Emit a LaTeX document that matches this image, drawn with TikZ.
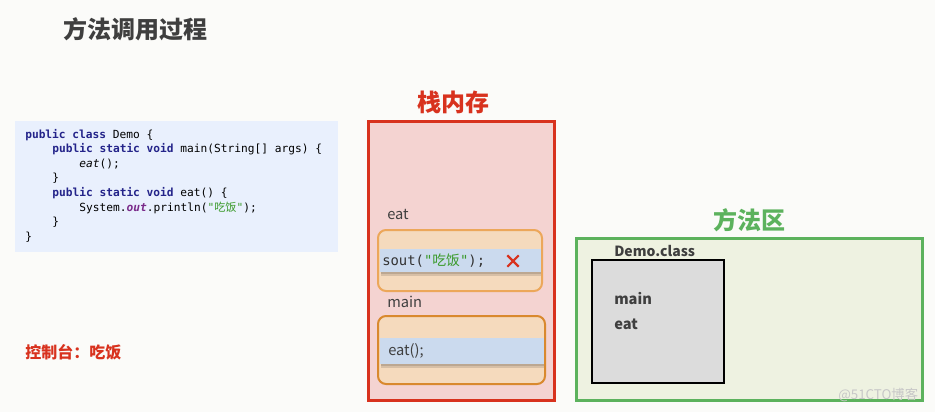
\documentclass[tikz,border=0pt]{standalone}
\usepackage{fontspec}
\setmainfont{Noto Sans CJK SC}
\newfontfamily\cjk{Noto Sans CJK SC}
\newfontfamily\codefont{DejaVu Sans Mono}
\usetikzlibrary{shapes.misc}

\definecolor{pagebg}{HTML}{FBFBF9}
\definecolor{titlegray}{HTML}{3F3F3F}
\definecolor{codebg}{HTML}{E9F0FD}
\definecolor{kwblue}{HTML}{24248A}
\definecolor{strgreen}{HTML}{3A9A2A}
\definecolor{outpurple}{HTML}{7A2A8A}
\definecolor{stackred}{HTML}{D8321E}
\definecolor{stackfill}{HTML}{F4D3D1}
\definecolor{frameorange}{HTML}{ECA75A}
\definecolor{framedark}{HTML}{D9892E}
\definecolor{framefill}{HTML}{F5DABD}
\definecolor{stripblue}{HTML}{CBDAEE}
\definecolor{areagreen}{HTML}{5CB25D}
\definecolor{areafill}{HTML}{EEF2E1}
\definecolor{classgray}{HTML}{DCDCDC}

\newcommand{\kw}[1]{\textcolor{kwblue}{\bfseries #1}}
\newcommand{\str}[1]{\textcolor{strgreen}{"{\cjk #1}"}}

\begin{document}
\begin{tikzpicture}[x=0.75pt, y=-0.75pt,
    heading/.style = {font=\bfseries\fontsize{18}{20}\selectfont},
    codeline/.style = {anchor=base west, inner sep=0pt, font=\codefont\fontsize{8.4}{10}\selectfont},
    label/.style = {anchor=west, inner sep=0pt, text=titlegray, font=\fontsize{11}{13}\selectfont},
    frame/.style = {rounded corners=6pt, line width=1.5pt, fill=framefill},
    strip/.style = {fill=stripblue},
    stripshadow/.style = {fill=black, opacity=0.12}]

    \useasboundingbox (0,0) rectangle (935,412);
    \fill[pagebg] (0,0) rectangle (935,412);

    % title
    \node[heading, text=titlegray] (title) at (135,29) {方法调用过程};

    % source code
    \fill[codebg] (15,121) rectangle (338,252);
    \foreach \ind/\txt [count=\i] in {
        0/{\kw{public} \kw{class} Demo \{},
        1/{\kw{public} \kw{static} \kw{void} main(String[] args) \{},
        2/{\textit{eat}();},
        1/{\}},
        1/{\kw{public} \kw{static} \kw{void} eat() \{},
        2/{System.\textcolor{outpurple}{\bfseries\itshape out}.println(\str{吃饭});},
        1/{\}},
        0/{\}}}
        \node[codeline] (code\i) at ({25+20.3*\ind/0.75}, {138+14.6*(\i-1)}) {\txt};

    % console output
    \node[text=stackred, font=\bfseries\fontsize{12}{14}\selectfont, anchor=west, inner sep=0pt] (console) at (25,352) {控制台：吃饭};

    % stack memory
    \node[heading, text=stackred] (stacktitle) at (453,102) {栈内存};
    \draw[stackred, line width=2.25pt, fill=stackfill] (368,121) rectangle (554,400);

    \node[label] (eatlabel) at (387,214) {eat};
    \draw[frame, draw=frameorange] (378,230) rectangle (542,291);
    \fill[stripshadow] (381,272) rectangle (541,276);
    \fill[stripshadow] (381,272) rectangle (541,274);
    \fill[strip] (380,249) rectangle (541,272);
    \node[anchor=west, inner sep=0pt, font=\codefont\fontsize{10.4}{12}\selectfont, text=titlegray!80!black] (sout) at (382,261) {sout(\str{吃饭});};
    \node[cross out, draw=stackred, line width=1.6pt, minimum size=7pt, inner sep=0pt] (cross) at (513,261) {};

    \node[label] (mainlabel) at (387,302) {main};
    \draw[frame, draw=framedark] (378,316) rectangle (545,384);
    \fill[stripshadow] (381,364) rectangle (544,368);
    \fill[stripshadow] (381,364) rectangle (544,366);
    \fill[strip] (380,338) rectangle (544,364);
    \node[label] (eatcall) at (388,351) {eat();};

    % method area
    \node[heading, text=areagreen] (areatitle) at (749,220) {方法区};
    \draw[areagreen, line width=2.25pt, fill=areafill] (576,238) rectangle (922,400);
    \node[anchor=west, inner sep=0pt, text=titlegray, font=\bfseries\fontsize{10.5}{12}\selectfont] (classname) at (614,251) {Demo.class};
    \draw[black, line width=1.5pt, fill=classgray] (592,260) rectangle (724,383);
    \node[anchor=west, inner sep=0pt, text=titlegray, font=\bfseries\fontsize{11}{13}\selectfont] (mainm) at (614,298) {main};
    \node[anchor=west, inner sep=0pt, text=titlegray, font=\bfseries\fontsize{11}{13}\selectfont] (eatm) at (614,324) {eat};

    \node[anchor=west, inner sep=0pt, text=black!22, font=\fontsize{10}{12}\selectfont] (mark) at (838,395) {@51CTO博客};
\end{tikzpicture}
\end{document}
